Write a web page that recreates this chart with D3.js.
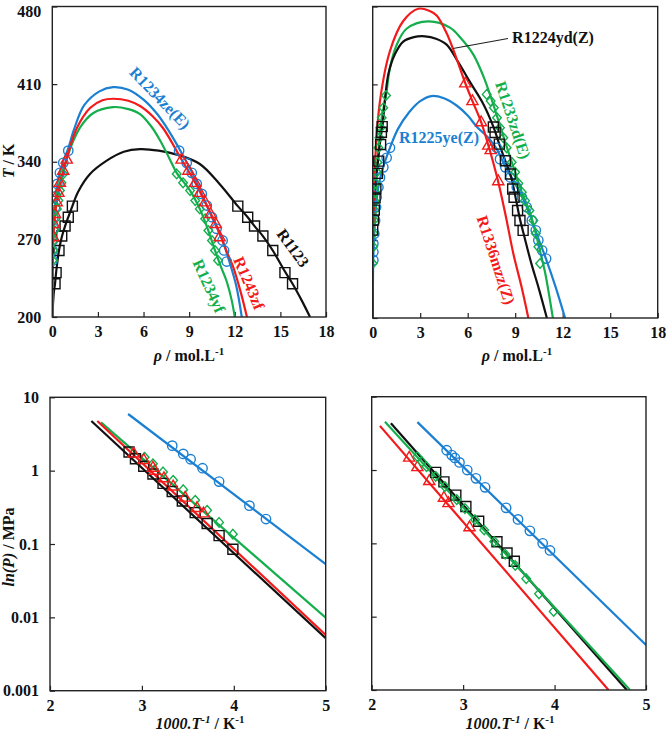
<!DOCTYPE html>
<html><head><meta charset="utf-8">
<script src="https://cdn.jsdelivr.net/npm/d3@7"></script>
<style>body{margin:0;background:#fff}svg{display:block}</style>
</head><body><svg id="c" width="666" height="732"></svg>
<script>
// ---------------- DATA ----------------
// Top panels: [density mol/L, T K]
const rhoTicks = [0,3,6,9,12,15,18];
const tTicks = [200,270,340,410,480];
// Bottom panels: [1000/T, P MPa]
const invTTicks = [2,3,4,5];
const pTicks = [0.001,0.01,0.1,1,10];

// --- top-left ---
const tl_R1234zeE_curve = [[0,200],[0.02,250],[0.07,280],[0.2,305],[0.4,325],[0.7,340],[1.05,352],[1.4,368],[2.1,391],[3.1,403.5],[4.0,407.3],[5.0,405],[6.0,396],[6.9,383],[7.7,367],[8.34,352],[9.17,331],[9.83,311],[10.5,290],[11.2,269],[11.6,252],[12.1,228],[12.46,200]];
const tl_R1234zeE_pts = [[8.34,350],[8.84,339],[9.17,330],[9.5,320],[9.83,311],[10.16,300.5],[10.5,290],[10.8,279.6],[11.2,269],[11.3,260],[11.47,250],
  [1.05,350],[0.72,339],[0.5,330],[0.33,320],[0.24,309],[0.18,299],[0.07,290],[0.07,280],[0.03,269],[0.02,260],[0.02,251]];
const tl_R1243zf_curve = [[0,200],[0.03,250],[0.07,272],[0.18,293],[0.4,312],[0.72,332],[0.95,343],[1.6,370],[2.5,388.7],[3.3,395.5],[4.0,396.8],[5.0,395],[5.8,390],[6.6,381],[7.3,370],[8.5,342],[9.4,321],[10.05,303.5],[10.75,284],[11.1,272],[11.5,258],[11.9,245],[12.4,222],[12.8,200]];
const tl_R1243zf_pts = [[8.5,342],[8.95,332],[9.4,321],[9.7,312],[10.05,303.5],[10.4,293],[10.75,284],[11.0,272],
  [0.95,342],[0.72,332],[0.5,321],[0.4,312],[0.29,303.5],[0.18,293],[0.11,284],[0.07,272]];
const tl_R1234yf_curve = [[0,200],[0.02,250],[0.1,285],[0.3,310],[0.72,330],[1.0,345],[1.82,370.7],[2.7,384],[4.0,389.3],[5.0,387.5],[5.77,383],[6.5,372],[7.1,359],[7.7,343],[8.18,330],[9.06,314],[9.7,297.5],[10.26,278],[10.7,260],[11.1,245],[11.47,232],[11.8,215],[12.0,200]];
const tl_R1234yf_pts = [[8.18,329],[8.6,321],[9.06,314],[9.4,305],[9.7,297.5],[10.05,288.6],[10.26,278],[10.5,269],[10.7,260],[10.9,251],
  [0.72,329],[0.6,321],[0.5,314],[0.4,305],[0.3,297.5],[0.22,288.6],[0.15,278],[0.1,269],[0.05,260],[0.02,251]];
const tl_R1123_curve = [[0,200],[0.1,222],[0.18,230],[0.25,240],[0.44,260],[0.62,272],[0.84,282],[1.05,290],[1.32,300],[1.7,313],[2.48,329],[3.58,341],[4.7,349],[5.77,351.4],[7.0,350],[8.3,346],[9.7,338],[11.0,320],[12.2,300],[12.85,290],[13.3,282],[13.85,273],[14.5,260],[15.3,241],[15.8,230],[16.4,215],[16.95,200]];
const tl_R1123_pts = [[12.2,300],[12.85,290],[13.3,282],[13.85,273],[14.5,260],[15.3,240],[15.8,230],
  [1.32,300],[1.05,290],[0.84,282],[0.62,273],[0.44,260],[0.25,240],[0.18,230]];

// --- top-right ---
const tr_R1336mzzZ_curve = [[0,200],[0.03,280],[0.15,340],[0.46,395],[1.09,440],[1.93,467],[2.88,478],[3.6,476],[4.04,472],[4.7,455],[5.3,433],[5.85,411],[6.3,395],[6.85,376],[7.35,353],[7.9,324],[8.4,292],[8.88,258],[9.4,228],[9.83,200]];
const tr_R1336mzzZ_pts = [[5.85,411],[6.3,395],[6.85,376],[7.3,355],[7.45,351],[7.93,323]];
const tr_R1224ydZ_curve = [[0,200],[0.0,270],[0.04,297],[0.15,315],[0.25,330],[0.35,343],[0.5,362],[0.62,373],[0.8,400],[1.0,420],[1.4,437],[1.93,448.5],[2.6,452.5],[3.3,453.2],[4.0,451],[4.67,445.7],[5.4,430],[6.15,412],[7.0,392],[7.62,372],[8.0,356],[8.38,341],[8.7,329],[9.0,310],[9.3,289],[9.6,272],[10.0,250],[10.5,226],[11.0,200]];
const tr_R1224ydZ_pts = [[7.62,371.7],[7.73,366.7],[8.0,356.3],[8.38,341.4],[8.7,329.5],[8.84,316],[8.93,308.5],[9.15,296.6],[9.3,287.7],[9.5,278.8],
  [0.6,372],[0.55,367],[0.5,356],[0.38,341],[0.3,330],[0.2,316],[0.15,308],[0.1,297],[0.05,288],[0.0,279]];
const tr_R1233zdE_curve = [[0,200],[0.0,249],[0.05,280],[0.15,310],[0.3,340],[0.57,380],[0.84,400],[1.09,425],[1.5,445],[2.14,460],[3.51,466.6],[4.88,461],[5.6,451],[6.35,437],[7.0,417],[7.5,397],[8.04,373],[8.46,354],[9.0,331],[9.42,313],[9.9,296],[10.3,276],[10.57,260],[10.9,240],[11.15,220],[11.38,200]];
const tr_R1233zdE_pts = [[7.2,401],[7.45,395],[7.65,389],[7.85,380],[8.04,371],[8.25,362],[8.46,353],[8.78,340],[9.0,331],[9.2,321],[9.42,313],[9.62,305.5],[9.9,296.6],[10.15,287.7],[10.3,276],[10.46,264],[10.57,249],
  [0.84,400],[0.67,389],[0.57,380],[0.5,371],[0.42,362],[0.36,353],[0.3,340],[0.25,331],[0.2,321],[0.17,313],[0.14,305],[0.1,297],[0.07,288],[0.05,276],[0.03,264],[0.0,249]];
const tr_R1225yeZ_curve = [[0,200],[0.02,240],[0.04,255],[0.1,276],[0.21,300],[0.36,318],[0.67,336],[1.09,353],[1.6,370],[2.3,385],[3.0,395],[3.72,399.5],[4.5,397.5],[5.3,391],[6.0,382],[6.57,372],[7.3,362],[7.83,352],[8.38,336],[9.1,318],[9.73,300],[10.05,288],[10.5,270],[10.95,253],[11.55,228],[12.15,200]];
const tr_R1225yeZ_pts = [[7.83,353],[8.04,342.8],[8.38,335.4],[8.7,326.4],[9.1,317.5],[9.42,308.5],[9.73,299.6],[10.05,287.7],[10.3,278.8],[10.46,269.8],[10.7,260.8],[10.95,253.4],
  [1.09,353],[0.88,344],[0.67,335.4],[0.46,326.4],[0.36,317.5],[0.25,308.5],[0.21,299.6],[0.15,287.7],[0.1,275.7],[0.04,266.8],[0.04,259.3],[0.04,252]];

// --- bottom-left ---
const bl_R1234zeE_line = [[2.85,5.92],[5,0.0533]];
const bl_R1123_line = [[2.45,4.75],[5,0.00518]];
const bl_R1243zf_line = [[2.515,4.75],[5,0.00575]];
const bl_R1234yf_line = [[2.555,4.56],[5,0.0099]];
const bl_R1234zeE_pts = [[3.33,2.19],[3.45,1.69],[3.53,1.43],[3.66,1.08],[3.84,0.71],[4.17,0.333],[4.35,0.219]];
const bl_R1123_pts = [[2.86,1.8],[2.93,1.45],[3.02,1.15],[3.12,0.9],[3.23,0.67],[3.33,0.52],[3.44,0.385],[3.58,0.268],[3.71,0.19],[3.84,0.13],[3.99,0.085]];
const bl_R1243zf_pts = [[2.91,1.72],[3.02,1.4],[3.12,1.1],[3.14,1.0],[3.24,0.79],[3.34,0.61],[3.47,0.43],[3.6,0.31],[3.67,0.262]];
const bl_R1234yf_pts = [[3.03,1.52],[3.12,1.24],[3.23,0.96],[3.34,0.74],[3.45,0.55],[3.58,0.395],[3.71,0.288],[3.84,0.197],[3.99,0.136]];

// --- bottom-right ---
const br_R1225yeZ_line = [[2.5,4.5],[5,0.0041]];
const br_R1224ydZ_line = [[2.21,4.34],[4.79,0.001]];
const br_R1233zdE_line = [[2.145,4.56],[4.825,0.001]];
const br_R1336mzzZ_line = [[2.09,4.0],[4.59,0.001]];
const br_R1225yeZ_pts = [[2.82,1.86],[2.875,1.6],[2.91,1.46],[2.96,1.27],[3.045,1.0],[3.14,0.77],[3.24,0.58],[3.47,0.305],[3.6,0.212],[3.73,0.148],[3.87,0.1],[3.95,0.08]];
const br_R1336mzzZ_pts = [[2.41,1.48],[2.5,1.1],[2.63,0.71],[2.79,0.42],[2.84,0.355],[3.07,0.166]];
const br_R1224ydZ_pts = [[2.70,0.93],[2.79,0.69],[2.92,0.455],[3.03,0.318],[3.17,0.2],[3.37,0.105],[3.48,0.074],[3.56,0.057]];
const br_R1233zdE_pts = [[2.5,1.52],[2.55,1.3],[2.6,1.11],[2.70,0.82],[2.8,0.595],[2.93,0.395],[3.02,0.298],[3.13,0.21],[3.23,0.152],[3.34,0.106],[3.46,0.071],[3.57,0.05],[3.69,0.033],[3.83,0.0205],[3.99,0.0118]];

// ---------------- DRAW ----------------
const svg = d3.select('#c');
const FONT = "'Liberation Serif','Times New Roman',serif";
const COL = {blue:'#1b7fd2', red:'#f21a1a', green:'#14ae4c', black:'#111111'};

function markerPath(shape) {
  if (shape === 'triangle') return 'M0,-6.2L5.6,3.6L-5.6,3.6Z';
  if (shape === 'diamond') return 'M0,-4.8L4.3,0L0,4.8L-4.3,0Z';
  if (shape === 'square') return 'M-5,-5H5V5H-5Z';
  return d3.symbol(d3.symbolCircle, Math.PI * 4.7 * 4.7)();
}

function drawPanel(p) {
  const x = d3.scaleLinear().domain(p.xd).range([p.x0, p.x1]);
  const y = (p.log ? d3.scaleLog() : d3.scaleLinear()).domain(p.yd).range([p.y1, p.y0]);
  const clipId = 'clip' + p.id;
  svg.append('clipPath').attr('id', clipId).append('rect')
    .attr('x', p.x0).attr('y', p.y0).attr('width', p.x1 - p.x0).attr('height', p.y1 - p.y0);

  const xa = svg.append('g').attr('transform', `translate(0,${p.y1})`)
    .call(d3.axisBottom(x).tickValues(p.xt).tickSizeInner(-5).tickSizeOuter(0).tickPadding(9)
      .tickFormat(d3.format('d')));
  const ya = svg.append('g').attr('transform', `translate(${p.x0},0)`)
    .call(d3.axisLeft(y).tickValues(p.yt).tickSizeInner(-5).tickSizeOuter(0).tickPadding(11)
      .tickFormat(p.showY ? (p.log ? (d => String(+d)) : d3.format('d')) : () => ''));
  [xa, ya].forEach(a => {
    a.select('.domain').remove();
    a.selectAll('line').attr('stroke', '#222').attr('stroke-width', 1.2);
    a.selectAll('text').attr('font-family', FONT).attr('font-weight', 'bold')
      .attr('font-size', 16).attr('fill', '#111');
  });
  // keep the top-most y label fully inside the picture
  ya.selectAll('.tick text').filter(d => d === p.yd[1] && y(d) < 12).attr('dy', '0.6em');

  const plot = svg.append('g').attr('clip-path', `url(#${clipId})`);
  const line = d3.line().x(d => x(d[0])).y(d => y(d[1]))
    .curve(p.log ? d3.curveLinear : d3.curveCatmullRom.alpha(0.5));
  p.series.forEach(s => {
    plot.append('path').datum(s.curve).attr('d', line)
      .attr('fill', 'none').attr('stroke', COL[s.color]).attr('stroke-width', 2.2);
  });
  p.series.forEach(s => {
    plot.selectAll(null).data(s.pts).enter().append('path')
      .attr('d', markerPath(s.shape))
      .attr('transform', d => `translate(${x(d[0])},${y(d[1])})`)
      .attr('fill', 'none').attr('stroke', COL[s.color]).attr('stroke-width', 1.4);
  });

  svg.append('rect').attr('x', p.x0).attr('y', p.y0)
    .attr('width', p.x1 - p.x0).attr('height', p.y1 - p.y0)
    .attr('fill', 'none').attr('stroke', '#222').attr('stroke-width', 1.4);
  return {x, y};
}

drawPanel({id:'tl', x0:52.3, x1:326, y0:6.5, y1:317, xd:[0,18], yd:[200,480], xt:rhoTicks, yt:tTicks, showY:true,
  series:[
    {curve:tl_R1123_curve, pts:tl_R1123_pts, color:'black', shape:'square'},
    {curve:tl_R1234zeE_curve, pts:tl_R1234zeE_pts, color:'blue', shape:'circle'},
    {curve:tl_R1234yf_curve, pts:tl_R1234yf_pts, color:'green', shape:'diamond'},
    {curve:tl_R1243zf_curve, pts:tl_R1243zf_pts, color:'red', shape:'triangle'}
  ]});
drawPanel({id:'tr', x0:372.7, x1:657.7, y0:6.5, y1:318, xd:[0,18], yd:[200,480], xt:rhoTicks, yt:tTicks, showY:false,
  series:[
    {curve:tr_R1225yeZ_curve, pts:tr_R1225yeZ_pts, color:'blue', shape:'circle'},
    {curve:tr_R1233zdE_curve, pts:tr_R1233zdE_pts, color:'green', shape:'diamond'},
    {curve:tr_R1224ydZ_curve, pts:tr_R1224ydZ_pts, color:'black', shape:'square'},
    {curve:tr_R1336mzzZ_curve, pts:tr_R1336mzzZ_pts, color:'red', shape:'triangle'}
  ]});
drawPanel({id:'bl', x0:50, x1:325.7, y0:397.3, y1:690.7, xd:[2,5], yd:[0.001,10], log:true, xt:invTTicks, yt:pTicks, showY:true,
  series:[
    {curve:bl_R1234zeE_line, pts:bl_R1234zeE_pts, color:'blue', shape:'circle'},
    {curve:bl_R1234yf_line, pts:bl_R1234yf_pts, color:'green', shape:'diamond'},
    {curve:bl_R1123_line, pts:bl_R1123_pts, color:'black', shape:'square'},
    {curve:bl_R1243zf_line, pts:bl_R1243zf_pts, color:'red', shape:'triangle'}
  ]});
drawPanel({id:'br', x0:371.7, x1:646, y0:396.7, y1:690, xd:[2,5], yd:[0.001,10], log:true, xt:invTTicks, yt:pTicks, showY:false,
  series:[
    {curve:br_R1225yeZ_line, pts:br_R1225yeZ_pts, color:'blue', shape:'circle'},
    {curve:br_R1336mzzZ_line, pts:br_R1336mzzZ_pts, color:'red', shape:'triangle'},
    {curve:br_R1224ydZ_line, pts:br_R1224ydZ_pts, color:'black', shape:'square'},
    {curve:br_R1233zdE_line, pts:br_R1233zdE_pts, color:'green', shape:'diamond'}
  ]});

// curve labels
function label(txt, cx, cy, rot, color) {
  svg.append('text').attr('transform', `translate(${cx},${cy}) rotate(${rot})`)
    .attr('text-anchor', 'middle').attr('dominant-baseline', 'central')
    .attr('font-family', FONT).attr('font-weight', 'bold').attr('font-size', 16)
    .attr('fill', COL[color]).text(txt);
}
label('R1234ze(E)', 160, 98, 46, 'blue');
label('R1243zf', 249, 283, 67, 'red');
label('R1234yf', 209, 286, 65.6, 'green');
label('R1123', 293, 248, 54, 'black');
label('R1224yd(Z)', 553, 37, 0, 'black');
label('R1225ye(Z)', 439, 137, 0, 'blue');
label('R1233zd(E)', 513, 120, 71.5, 'green');
label('R1336mzz(Z)', 496, 260, 72, 'red');
svg.append('line').attr('x1', 508).attr('y1', 38.5).attr('x2', 453).attr('y2', 48.5)
  .attr('stroke', '#222').attr('stroke-width', 1.1);

// axis titles
function title(parts, x, y, rot) {
  const t = svg.append('text').attr('transform', `translate(${x},${y}) rotate(${rot})`)
    .attr('text-anchor', 'middle').attr('font-family', FONT).attr('font-weight', 'bold')
    .attr('font-size', 16).attr('fill', '#111');
  parts.forEach(pt => {
    const s = t.append('tspan').text(pt.t);
    if (pt.i) s.attr('font-style', 'italic');
    if (pt.sup) s.attr('font-size', 11).attr('dy', -6);
    if (pt.down) s.attr('dy', 6);
  });
}
title([{t:'T', i:true}, {t:' / K'}], 14, 161, -90);
title([{t:'ρ', i:true}, {t:' / mol.L'}, {t:'-1', sup:true}], 189, 361, 0);
title([{t:'ρ', i:true}, {t:' / mol.L'}, {t:'-1', sup:true}], 517, 361, 0);
title([{t:'ln(P)', i:true}, {t:' / MPa'}], 14, 547, -90);
title([{t:'1000.T', i:true}, {t:'-1', i:true, sup:true}, {t:' / K', down:true}, {t:'-1', sup:true}], 200, 729, 0);
title([{t:'1000.T', i:true}, {t:'-1', i:true, sup:true}, {t:' / K', down:true}, {t:'-1', sup:true}], 510, 729, 0);
</script></body></html>
